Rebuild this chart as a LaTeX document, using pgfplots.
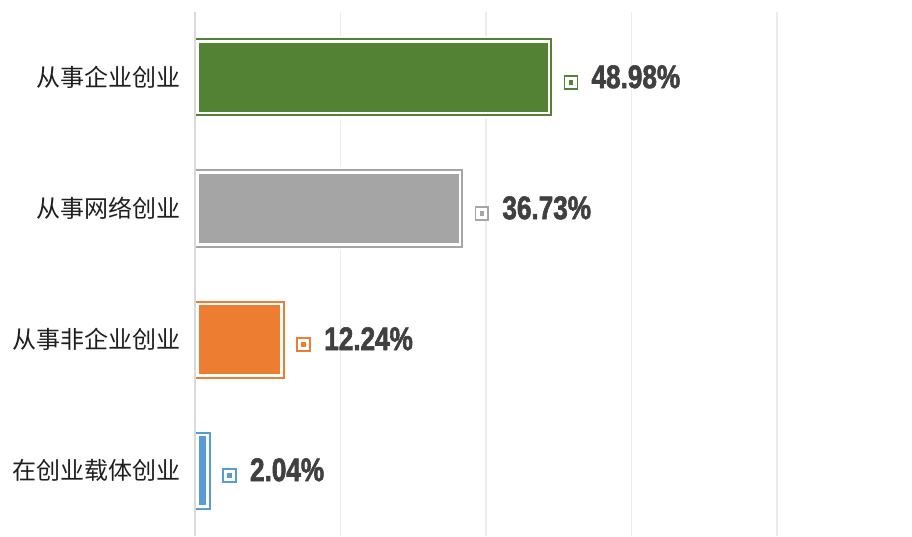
\documentclass[border=0pt]{standalone}
\usepackage{fontspec}
\usepackage{pgfplots}
\pgfplotsset{compat=1.18}
\usetikzlibrary{calc}
\newfontfamily\cjk{Noto Sans CJK SC}
\newfontfamily\pctfont[FakeStretch=0.8,FakeBold=1.8]{Liberation Sans Bold}
\definecolor{cG}{RGB}{84,130,53}
\definecolor{cS}{RGB}{165,165,165}
\definecolor{cO}{RGB}{237,125,49}
\definecolor{cB}{RGB}{91,155,213}
\definecolor{txt}{RGB}{64,64,64}
\definecolor{grd}{RGB}{236,236,236}
\newcommand{\lblicon}[1]{\raisebox{2.6pt}{\setlength{\fboxsep}{2.6pt}\setlength{\fboxrule}{1.2pt}\fcolorbox{#1}{white}{\textcolor{#1}{\rule{3.3pt}{3.3pt}}}}}
\pgfplotsset{
  innerbar/.style={xbar, bar width=57pt, fill=#1, draw=white, line width=5.5pt, forget plot},
  outerbar/.style={xbar, bar width=57pt, fill=none, draw=#1, line width=1.5pt, point meta=x,
    nodes near coords={\lblicon{#1}\hspace{10pt}\textcolor{txt}{\pctfont\fontsize{24.5}{26}\selectfont\pgfmathprintnumber[assume math mode=true,fixed,fixed zerofill,precision=2]{\pgfplotspointmeta}\%}},
    nodes near coords style={anchor=west, inner sep=0pt, xshift=8.5pt}},
}
\begin{document}
\begin{tikzpicture}
\begin{axis}[
  scale only axis, width=534.75pt, height=393pt,
  xmin=0, xmax=98, ymin=0.5, ymax=4.5,
  bar shift=0pt,
  xtick={0,20,40,60,80}, xticklabels={},
  ytick={1,2,3,4},
  yticklabels={在创业载体创业,从事非企业创业,从事网络创业,从事企业创业},
  yticklabel style={font=\cjk\fontsize{18}{20}\selectfont, text=black!88, anchor=east, inner sep=0pt, xshift=-11pt},
  major tick length=0pt,
  xmajorgrids, grid style={grd, line width=1.2pt},
  axis line style={draw=none},
  clip=false,
]
\addplot[innerbar=cG] coordinates {(48.98,4)};
\addplot[outerbar=cG] coordinates {(48.98,4)};
\addplot[innerbar=cS] coordinates {(36.73,3)};
\addplot[outerbar=cS] coordinates {(36.73,3)};
\addplot[innerbar=cO] coordinates {(12.24,2)};
\addplot[outerbar=cO] coordinates {(12.24,2)};
\addplot[innerbar=cB] coordinates {(2.04,1)};
\addplot[outerbar=cB] coordinates {(2.04,1)};
\draw[black!15, line width=1pt] (rel axis cs:0,0) -- (rel axis cs:0,1);
\coordinate (ll) at (rel axis cs:0,0);
\end{axis}
\pgfresetboundingbox
\path[use as bounding box] ($(ll)+(-146.25pt,0)$) rectangle ($(ll)+(537.75pt,402pt)$);
\end{tikzpicture}
\end{document}
